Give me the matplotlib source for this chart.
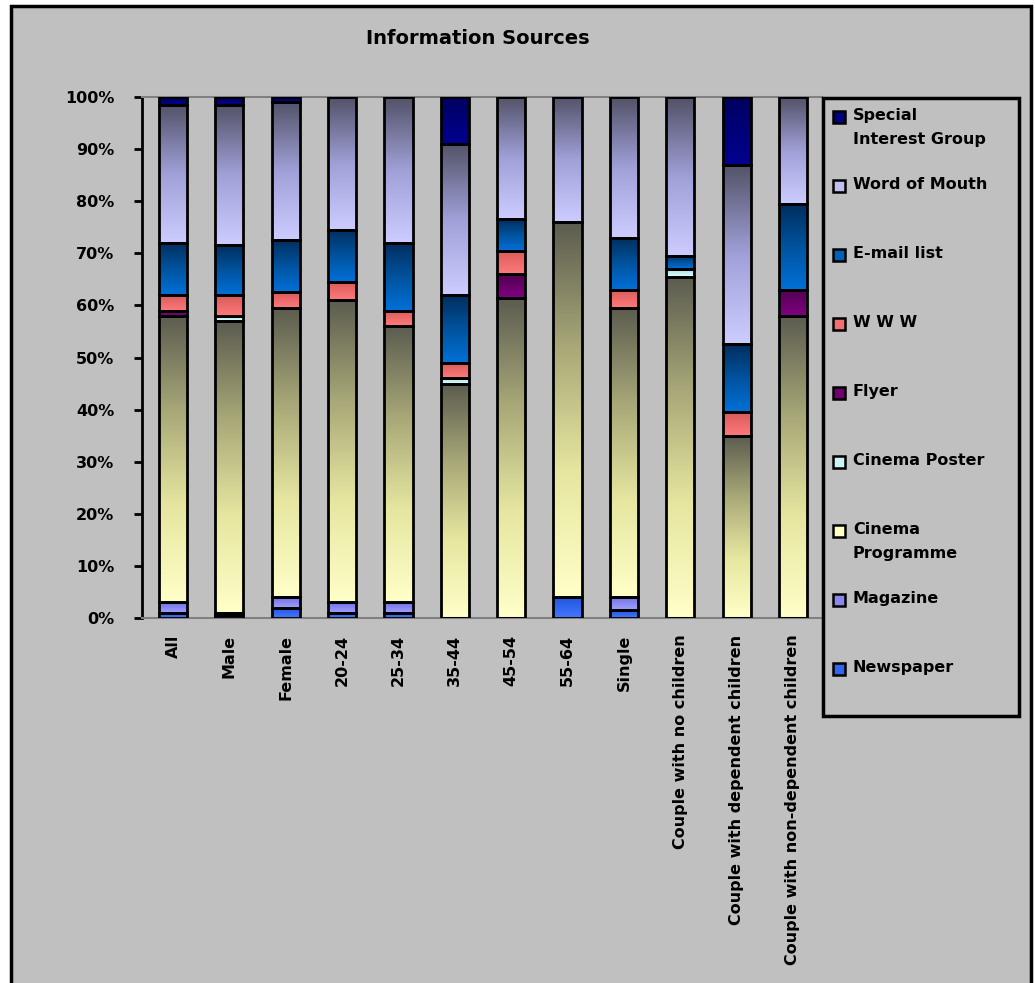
import numpy as np
import matplotlib
matplotlib.use('Agg')
import matplotlib.pyplot as plt
from matplotlib.colors import LinearSegmentedColormap
from matplotlib.patches import Rectangle

# categories along the x axis
groups = ['All', 'Male', 'Female', '20-24', '25-34', '35-44', '45-54', '55-64',
          'Single', 'Couple with no children', 'Couple with dependent children',
          'Couple with non-dependent children']

# share of each information source, % (stacked bottom -> top)
newspaper   = [1.0, 0.5, 2.0, 1.0, 1.0, 0.0, 0.0, 4.0, 1.5, 0.0, 0.0, 0.0]
magazine    = [2.0, 0.5, 2.0, 2.0, 2.0, 0.0, 0.0, 0.0, 2.5, 0.0, 0.0, 0.0]
cinema_prog = [55.0, 56.0, 55.5, 58.0, 53.0, 45.0, 61.5, 72.0, 55.5, 65.5, 35.0, 58.0]
cinema_post = [0.0, 1.0, 0.0, 0.0, 0.0, 1.0, 0.0, 0.0, 0.0, 1.5, 0.0, 0.0]
flyer       = [1.0, 0.0, 0.0, 0.0, 0.0, 0.0, 4.5, 0.0, 0.0, 0.0, 0.0, 5.0]
www         = [3.0, 4.0, 3.0, 3.5, 3.0, 3.0, 4.5, 0.0, 3.5, 0.0, 4.5, 0.0]
email_list  = [10.0, 9.5, 10.0, 10.0, 13.0, 13.0, 6.0, 0.0, 10.0, 2.5, 13.0, 16.5]
word_mouth  = [26.5, 27.0, 26.5, 25.5, 28.0, 29.0, 23.5, 24.0, 27.0, 30.5, 34.5, 20.5]
special_ig  = [1.5, 1.5, 1.0, 0.0, 0.0, 9.0, 0.0, 0.0, 0.0, 0.0, 13.0, 0.0]

series = [newspaper, magazine, cinema_prog, cinema_post, flyer, www,
          email_list, word_mouth, special_ig]
names = ['Newspaper', 'Magazine', 'Cinema\nProgramme', 'Cinema Poster', 'Flyer',
         'W W W', 'E-mail list', 'Word of Mouth', 'Special\nInterest Group']
# gradient colours of each segment, bottom -> top
shades = [['#4477ff', '#2255dd'],
          ['#a0a0ff', '#7070e0'],
          ['#ffffc8', '#e6e6a0', '#a8a878', '#5c5c50'],
          ['#ddffff', '#aadddd'],
          ['#800080', '#500050'],
          ['#ff7a7a', '#d85a5a'],
          ['#0070d8', '#00539e', '#002e5e'],
          ['#ccccff', '#a0a0d8', '#525268'],
          ['#000090', '#000060']]
# swatch colour in the legend
swatch = ['#3366ee', '#8888ee', '#ffffc0', '#ccf4f4', '#700070',
          '#f07070', '#0060b8', '#c0c0f0', '#000080']

W, H = 1035, 983
fig = plt.figure(figsize=(W / 100, H / 100), dpi=100, facecolor='white')

def fx(px):
    return px / W

def fy(py):
    return 1 - py / H

# grey chart area with black frame
fig.patches.append(Rectangle((fx(11), fy(1000)), fx(1031) - fx(11), fy(6) - fy(1000),
                             transform=fig.transFigure, facecolor='#c0c0c0',
                             edgecolor='black', linewidth=2.5, zorder=-10))

ax = fig.add_axes([fx(142), fy(618), fx(822) - fx(142), fy(97) - fy(618)])
ax.patch.set_alpha(0)

x = np.arange(len(groups))
bw = 0.5
grad = np.linspace(0, 1, 128).reshape(-1, 1)
bottom = np.zeros(len(groups))
for vals, cols in zip(series, shades):
    cmap = LinearSegmentedColormap.from_list('g', cols)
    vals = np.array(vals)
    for i in range(len(groups)):
        if vals[i] <= 0:
            continue
        ax.imshow(grad, extent=[x[i] - bw / 2, x[i] + bw / 2, bottom[i], bottom[i] + vals[i]],
                  origin='lower', cmap=cmap, aspect='auto', interpolation='bilinear', zorder=2)
    ax.bar(x, vals, bw, bottom=bottom, fill=False, edgecolor='black', linewidth=2, zorder=3)
    bottom += vals

ax.set_xlim(-0.55, 11.515)
ax.set_ylim(0, 100)

ax.set_yticks(range(0, 101, 10))
ax.set_yticklabels([f'{v}%' for v in range(0, 101, 10)], fontweight='bold', fontsize=11.5)
ax.tick_params(axis='y', length=6, width=2, pad=14)
ax.set_xticks(x)
ax.set_xticklabels(groups, rotation=90, fontweight='bold', fontsize=11.5, va='top')
ax.tick_params(axis='x', length=0, pad=12)

for s in ['top', 'bottom']:
    ax.spines[s].set_color('#808080')
    ax.spines[s].set_linewidth(1.5)
ax.spines['right'].set_visible(False)
ax.spines['left'].set_linewidth(2)

fig.text(fx(478), fy(38), 'Information Sources', ha='center', va='center',
         fontsize=14, fontweight='bold')

# legend box drawn by hand, top entry first
fig.patches.append(Rectangle((fx(823), fy(716)), fx(1019) - fx(823), fy(98) - fy(716),
                             transform=fig.transFigure, facecolor='#c0c0c0',
                             edgecolor='black', linewidth=2.5, zorder=5))
for k, (name, col) in enumerate(zip(names[::-1], swatch[::-1])):
    ty = 117 + k * 69
    fig.patches.append(Rectangle((fx(833), fy(ty + 6)), fx(12), fy(0) - fy(12),
                                 transform=fig.transFigure, facecolor=col,
                                 edgecolor='black', linewidth=1.8, zorder=6))
    fig.text(fx(853), fy(ty - 9), name, ha='left', va='top',
             fontsize=11.5, fontweight='bold', linespacing=1.75, zorder=7)

fig.savefig('out.png', dpi=100, facecolor=fig.get_facecolor())
